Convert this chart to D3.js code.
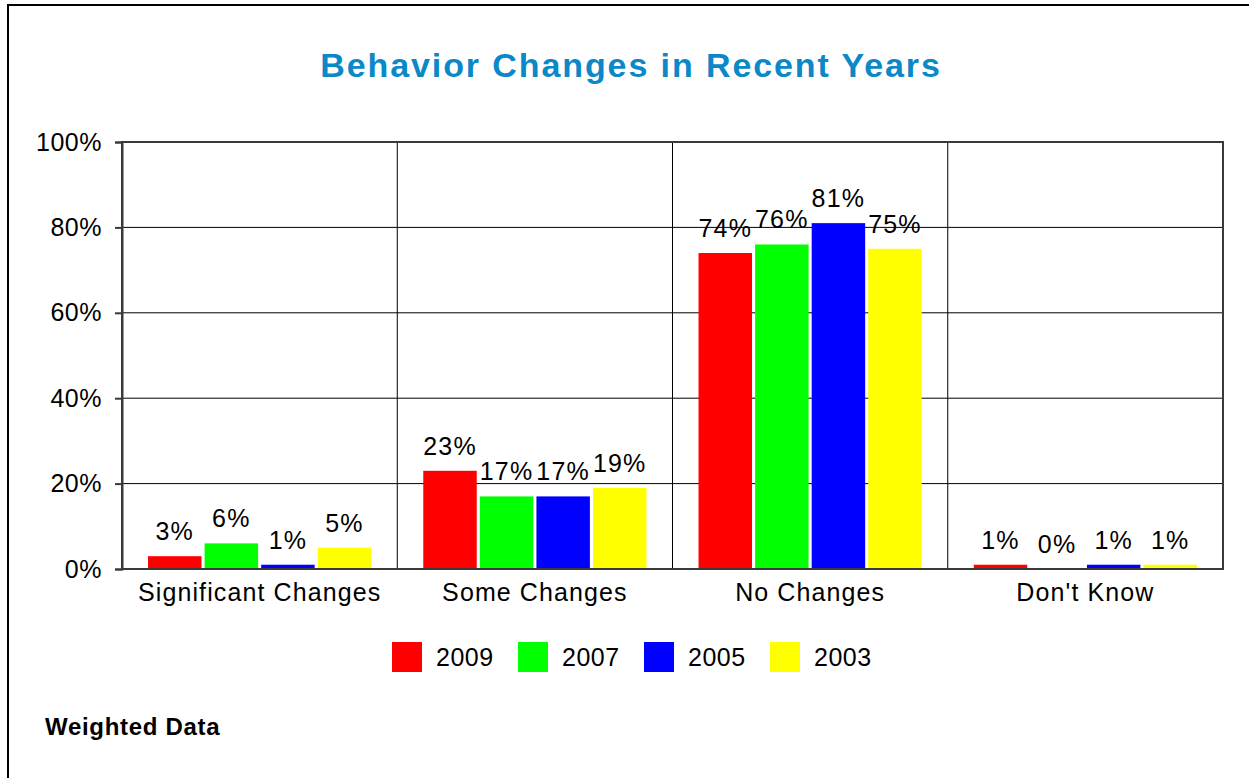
<!DOCTYPE html>
<html>
<head>
<meta charset="utf-8">
<script src="https://cdn.jsdelivr.net/npm/d3@7"></script>
<style>
  html, body { margin: 0; padding: 0; background: #fff; }
  svg { display: block; font-family: "Liberation Sans", Arial, sans-serif; }
</style>
</head>
<body>
<svg id="chart" width="1249" height="778"></svg>
<script>
const categories = ["Significant Changes", "Some Changes", "No Changes", "Don't Know"];
const seriesNames = ["2009", "2007", "2005", "2003"];
const seriesColors = ["#ff0000", "#00ff00", "#0000ff", "#ffff00"];
const values2009 = [3, 23, 74, 1];
const values2007 = [6, 17, 76, 0];
const values2005 = [1, 17, 81, 1];
const values2003 = [5, 19, 75, 1];
const yTicks = [0, 20, 40, 60, 80, 100];
const titleText = "Behavior Changes in Recent Years";
const footnote = "Weighted Data";

const seriesValues = [values2009, values2007, values2005, values2003];

const svg = d3.select("#chart");
const W = 1249, H = 778;
const plot = { left: 122, right: 1223, top: 142, bottom: 569 };

// outer border
svg.append("rect")
  .attr("x", 8).attr("y", 5)
  .attr("width", W + 20).attr("height", H + 20)
  .attr("fill", "#fff").attr("stroke", "#000").attr("stroke-width", 2);

// title
svg.append("text")
  .attr("x", 631).attr("y", 77)
  .attr("text-anchor", "middle")
  .attr("font-size", 34).attr("font-weight", "bold")
  .attr("letter-spacing", 1.9)
  .attr("fill", "#0b88c8")
  .text(titleText);

const x0 = d3.scaleBand().domain(categories).range([plot.left, plot.right]).paddingInner(0).paddingOuter(0);
const x1 = d3.scaleBand().domain(seriesNames).range([0, x0.bandwidth()]).paddingInner(0.055).paddingOuter(0.46);
const y = d3.scaleLinear().domain([0, 100]).range([plot.bottom, plot.top]);

// horizontal gridlines
svg.append("g").selectAll("line").data(yTicks.filter(t => t > 0 && t < 100)).join("line")
  .attr("x1", plot.left).attr("x2", plot.right)
  .attr("y1", d => y(d)).attr("y2", d => y(d))
  .attr("stroke", "#000").attr("stroke-width", 1);

// vertical category separators
svg.append("g").selectAll("line").data(categories.slice(1)).join("line")
  .attr("x1", d => x0(d)).attr("x2", d => x0(d))
  .attr("y1", plot.top).attr("y2", plot.bottom)
  .attr("stroke", "#000").attr("stroke-width", 1);

// bars
const groups = svg.append("g").selectAll("g").data(categories).join("g")
  .attr("transform", d => `translate(${x0(d)},0)`);

groups.each(function(cat, ci) {
  const g = d3.select(this);
  const data = seriesNames.map((s, si) => ({ s, si, v: seriesValues[si][ci] }));
  g.selectAll("rect").data(data).join("rect")
    .attr("x", d => x1(d.s))
    .attr("y", d => y(d.v))
    .attr("width", x1.bandwidth())
    .attr("height", d => y(0) - y(d.v))
    .attr("fill", d => seriesColors[d.si]);
  g.selectAll("text").data(data).join("text")
    .attr("x", d => x1(d.s) + x1.bandwidth() / 2)
    .attr("y", d => y(d.v) - 16)
    .attr("text-anchor", "middle")
    .attr("font-size", 25)
    .attr("letter-spacing", 1.2)
    .attr("fill", "#000")
    .text(d => d.v + "%");
});

// plot frame
svg.append("rect")
  .attr("x", plot.left).attr("y", plot.top)
  .attr("width", plot.right - plot.left).attr("height", plot.bottom - plot.top)
  .attr("fill", "none").attr("stroke", "#3a3a3a").attr("stroke-width", 2);

// y axis
const yAxis = d3.axisLeft(y).tickValues(yTicks).tickSize(7).tickPadding(13).tickFormat(d => d + "%");
const ya = svg.append("g").attr("transform", `translate(${plot.left},0)`).call(yAxis);
ya.select(".domain").attr("stroke", "#3a3a3a").attr("stroke-width", 2);
ya.selectAll(".tick line").attr("stroke", "#3a3a3a").attr("stroke-width", 2);
ya.selectAll(".tick text")
  .attr("font-size", 25).attr("letter-spacing", 0.5)
  .attr("font-family", "'Liberation Sans', Arial, sans-serif")
  .attr("fill", "#000");

// x axis labels
const xAxis = d3.axisBottom(x0).tickSize(0).tickPadding(14);
const xa = svg.append("g").attr("transform", `translate(0,${plot.bottom})`).call(xAxis);
xa.select(".domain").remove();
xa.selectAll(".tick text")
  .attr("font-size", 25).attr("letter-spacing", 1.1)
  .attr("font-family", "'Liberation Sans', Arial, sans-serif")
  .attr("fill", "#000")
  .attr("dy", "0.71em");

// legend
const legendX = d3.scalePoint().domain(seriesNames).range([392, 770]);
const leg = svg.append("g").selectAll("g").data(seriesNames).join("g")
  .attr("transform", d => `translate(${legendX(d)},642)`);
leg.append("rect")
  .attr("width", 30).attr("height", 30)
  .attr("fill", (d, i) => seriesColors[i]);
leg.append("text")
  .attr("x", 44).attr("y", 15).attr("dy", "0.35em")
  .attr("font-size", 25).attr("letter-spacing", 0.5)
  .attr("fill", "#000")
  .text(d => d);

// footnote
svg.append("text")
  .attr("x", 45).attr("y", 735)
  .attr("font-size", 24).attr("font-weight", "bold")
  .attr("letter-spacing", 0.7)
  .attr("fill", "#000")
  .text(footnote);
</script>
</body>
</html>
